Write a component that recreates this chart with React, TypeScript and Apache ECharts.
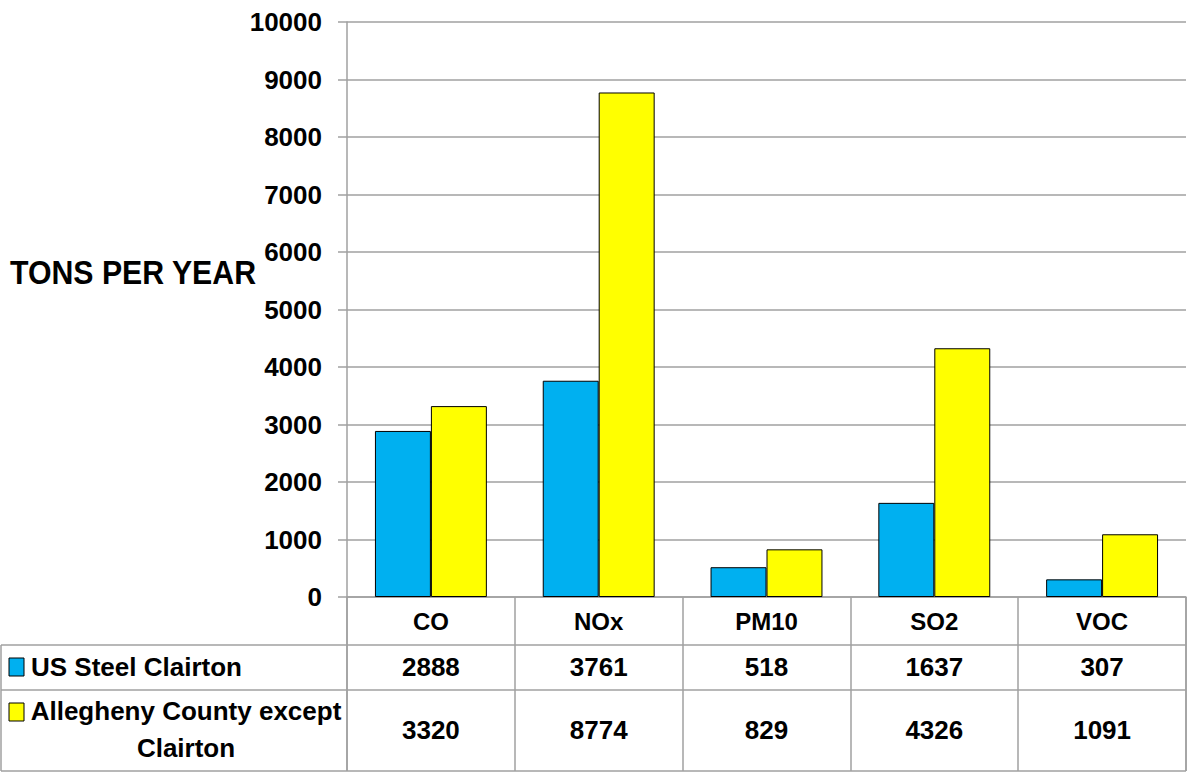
import React, { useEffect, useRef } from "react";
import * as echarts from "echarts";

const categories = ["CO", "NOx", "PM10", "SO2", "VOC"];
const seriesNames = ["US Steel Clairton", "Allegheny County except\nClairton"];
const usSteel = [2888, 3761, 518, 1637, 307];
const allegheny = [3320, 8774, 829, 4326, 1091];
const yAxisTitle = "TONS PER YEAR";

const FONT = "'Liberation Sans', Arial, sans-serif";
const GRID_COLOR = "#a0a0a0";
const BLUE = "#00B0F0";
const YELLOW = "#FFFF00";

export default function App() {
  const ref = useRef<HTMLDivElement>(null);
  useEffect(() => {
    if (!ref.current) return;
    const chart = echarts.init(ref.current, null, { renderer: "svg" });
    const W = 1188;
    const left = 347;
    const right = 1186;
    const axisY = 597;
    const bottom = 771;
    const gridLine = (x1: number, y1: number, x2: number, y2: number) => ({
      type: "line",
      shape: { x1, y1, x2, y2 },
      style: { stroke: GRID_COLOR, lineWidth: 1.5 },
      silent: true,
    });
    const valueAxis = (data: number[], margin: number) => ({
      type: "category",
      data: data.map(String),
      gridIndex: 0,
      position: "bottom",
      axisLine: { show: false },
      axisTick: { show: false },
      splitLine: { show: false },
      axisLabel: {
        interval: 0,
        margin,
        verticalAlign: "middle",
        fontFamily: FONT,
        fontWeight: "bold",
        fontSize: 26,
        color: "#000",
      },
    });
    chart.setOption({
      animation: false,
      backgroundColor: "#fff",
      grid: { left: left, right: W - right, top: 22, bottom: 773 - axisY },
      xAxis: [
        {
          type: "category",
          data: categories,
          axisLine: { show: true, lineStyle: { color: GRID_COLOR, width: 1.5 } },
          axisTick: {
            show: true,
            length: bottom - axisY,
            lineStyle: { color: GRID_COLOR, width: 1.5 },
          },
          axisLabel: {
            interval: 0,
            margin: 24,
            verticalAlign: "middle",
            fontFamily: FONT,
            fontWeight: "bold",
            fontSize: 24,
            color: "#000",
          },
        },
        valueAxis(usSteel, 70),
        valueAxis(allegheny, 133),
      ],
      yAxis: {
        type: "value",
        min: 0,
        max: 10000,
        interval: 1000,
        axisLine: { show: true, lineStyle: { color: GRID_COLOR, width: 1.5 } },
        axisTick: { show: true, length: 9, lineStyle: { color: GRID_COLOR, width: 1.5 } },
        splitLine: { show: true, lineStyle: { color: GRID_COLOR, width: 1.5 } },
        axisLabel: {
          margin: 25,
          formatter: (v: number) => String(v),
          fontFamily: FONT,
          fontWeight: "bold",
          fontSize: 26,
          color: "#000",
        },
      },
      series: [
        {
          name: seriesNames[0],
          type: "bar",
          data: usSteel,
          barGap: "0%",
          barCategoryGap: "33.3%",
          itemStyle: { color: BLUE, borderColor: "#000", borderWidth: 1 },
        },
        {
          name: seriesNames[1],
          type: "bar",
          data: allegheny,
          barGap: "0%",
          barCategoryGap: "33.3%",
          itemStyle: { color: YELLOW, borderColor: "#000", borderWidth: 1 },
        },
      ],
      graphic: [
        gridLine(1, 645, right, 645),
        gridLine(1, 690, right, 690),
        gridLine(1, bottom, right, bottom),
        gridLine(1, 645, 1, bottom),
        gridLine(left, axisY, left, bottom),
        gridLine(right, axisY, right, bottom),
        {
          type: "text",
          x: 10,
          y: 272,
          scaleX: 0.89,
          style: {
            text: yAxisTitle,
            fontFamily: FONT,
            fontWeight: "bold",
            fontSize: 34,
            fill: "#000",
            verticalAlign: "middle",
          },
        },
        {
          type: "rect",
          shape: { x: 9, y: 658, width: 15, height: 18 },
          style: { fill: BLUE, stroke: "#000", lineWidth: 1 },
        },
        {
          type: "text",
          x: 31,
          y: 667,
          style: {
            text: seriesNames[0],
            fontFamily: FONT,
            fontWeight: "bold",
            fontSize: 26,
            fill: "#000",
            verticalAlign: "middle",
          },
        },
        {
          type: "rect",
          shape: { x: 9, y: 703, width: 15, height: 18 },
          style: { fill: YELLOW, stroke: "#000", lineWidth: 1 },
        },
        {
          type: "text",
          x: 186,
          y: 729,
          style: {
            text: seriesNames[1],
            fontFamily: FONT,
            fontWeight: "bold",
            fontSize: 26,
            lineHeight: 37,
            fill: "#000",
            align: "center",
            verticalAlign: "middle",
          },
        },
      ],
    });
    return () => chart.dispose();
  }, []);
  return (
    <div
      ref={ref}
      style={{ position: "fixed", left: 0, top: 0, width: 1188, height: 773, background: "#fff" }}
    />
  );
}
